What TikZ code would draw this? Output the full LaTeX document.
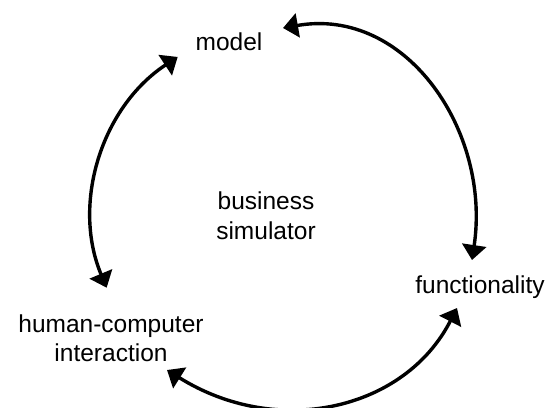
\documentclass[tikz,border=0pt]{standalone}
\usepackage{fontspec}
\setmainfont{Liberation Sans}
\usetikzlibrary{arrows.meta,calc}

\tikzset{
  label text/.style={font=\fontsize{24.5}{29.5}\selectfont, inner sep=0pt, align=center, text=black},
  link/.style={line width=3.4pt, {Triangle[length=15pt,width=24pt]}-{Triangle[length=15pt,width=24pt]}}
}

\begin{document}
\begin{tikzpicture}[x=1pt,y=-1pt]
  \useasboundingbox (0,0) rectangle (548,407);

  % labels
  \node[label text, anchor=base] (model) at (229,50) {model};
  \node[label text, anchor=base] (func) at (480,293) {functionality};
  \node[label text] (hci) at (111,338) {human-computer\\interaction};
  \node[label text] (sim) at (266,215.8) {business\\simulator};

  % end points of the two curved links, placed relative to their labels
  \coordinate (m1) at ($(model.base)+(54,-22)$);
  \coordinate (f1) at ($(func.base)+(-8,-33)$);
  \coordinate (f2) at ($(func.base)+(-23,15)$);
  \coordinate (h2) at ($(hci)+(56,32)$);

  % centre of the left arc
  \coordinate (hub) at (284.5,215);

  % model <-> functionality
  \draw[link] (m1) .. controls ($(m1)+(123,-21.7)$) and ($(f1)+(19.2,-128.6)$) .. (f1);
  % functionality <-> human-computer interaction
  \draw[link] (f2) .. controls ($(f2)+(-52.4,102.4)$) and ($(h2)+(110.2,68.9)$) .. (h2);
  % human-computer interaction <-> model
  \draw[link] ($(hub)+(157.5:192.5 and 190)$)
    arc[start angle=157.5, end angle=236.3, x radius=192.5, y radius=190];
\end{tikzpicture}
\end{document}
